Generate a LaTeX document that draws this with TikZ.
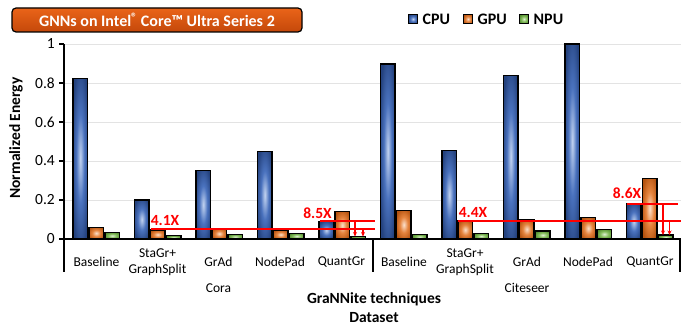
\documentclass[tikz,border=0pt]{standalone}
\usepackage{fontspec}
\setmainfont{Carlito}
\usetikzlibrary{arrows.meta}
\definecolor{cpuout}{HTML}{24427E}
\definecolor{cpumid}{HTML}{4A72BE}
\definecolor{cpuin}{HTML}{C2D3F0}
\definecolor{gpuout}{HTML}{B4520F}
\definecolor{gpumid}{HTML}{E5843E}
\definecolor{gpuin}{HTML}{FBE0CB}
\definecolor{npuout}{HTML}{4F8A2C}
\definecolor{npumid}{HTML}{86BE5E}
\definecolor{npuin}{HTML}{E0F0D4}
\definecolor{titletop}{HTML}{EA6419}
\definecolor{titlebot}{HTML}{C4480A}
\definecolor{annred}{HTML}{FF0000}
\pgfdeclareradialshading{cpushade}{\pgfpoint{0bp}{0bp}}{color(0bp)=(cpuin); color(14bp)=(cpumid); color(30bp)=(cpuout); color(72bp)=(cpuout)}
\pgfdeclareradialshading{gpushade}{\pgfpoint{0bp}{0bp}}{color(0bp)=(gpuin); color(14bp)=(gpumid); color(30bp)=(gpuout); color(72bp)=(gpuout)}
\pgfdeclareradialshading{npushade}{\pgfpoint{0bp}{0bp}}{color(0bp)=(npuin); color(14bp)=(npumid); color(30bp)=(npuout); color(72bp)=(npuout)}
\newcommand{\drawbar}[3]{%
  \shade[shading=#3, draw=black, line width=1.2pt] (#1,239) rectangle ({#1+14.5},{239-195*#2});}
\begin{document}
\begin{tikzpicture}[x=1pt,y=-1pt,
  grid/.style={gray!22, line width=0.9pt},
  axisline/.style={black, line width=1.3pt},
  annline/.style={draw=annred, line width=1.5pt},
  annarr/.style={draw=annred, fill=annred, line width=1.2pt, -{Stealth[length=4.5pt,width=4pt]}},
  annlab/.style={text=annred, font=\bfseries\fontsize{15.5}{16}\selectfont, inner sep=0pt},
  ticklab/.style={anchor=east, inner sep=0pt, font=\fontsize{15.5}{16}\selectfont},
  catlab/.style={align=center, inner sep=0pt, font=\fontsize{13.5}{16.5}\selectfont},
  axtitle/.style={inner sep=0pt, font=\bfseries\fontsize{15.5}{16}\selectfont},
  legsq/.style={draw=black, line width=1pt, minimum size=9pt, inner sep=0pt},
  leglab/.style={anchor=west, inner sep=0pt, font=\bfseries\fontsize{16}{16}\selectfont},
  titlebox/.style={draw=black, line width=1.2pt, rounded corners=4pt, top color=titletop, bottom color=titlebot,
     minimum width=290pt, minimum height=24pt, inner sep=0pt, text=white, font=\bfseries\fontsize{16}{16}\selectfont}]
\useasboundingbox (0,0) rectangle (681,329);
% grid
\foreach \v in {0.2,0.4,0.6,0.8,1} {
  \draw[grid] (64,{239-195*\v}) -- (681,{239-195*\v});
}
% bars
\foreach \i/\c/\g/\n in {0/0.823/0.06/0.034, 1/0.20/0.046/0.017, 2/0.351/0.055/0.024, 3/0.449/0.046/0.030, 4/0.089/0.14/0.012,
  5/0.897/0.146/0.024, 6/0.452/0.094/0.030, 7/0.84/0.10/0.041, 8/1.0/0.11/0.05, 9/0.18/0.312/0.02} {
  \pgfmathsetmacro\L{64+\i*61.5}
  \drawbar{\L+9}{\c}{cpushade}
  \drawbar{\L+25}{\g}{gpushade}
  \drawbar{\L+41}{\n}{npushade}
}
% axes
\draw[axisline] (64,44) -- (64,272);
\draw[axisline] (64,239) -- (681,239);
\draw[axisline] (373,239) -- (373,272);
\draw[axisline] (680,239) -- (680,272);
\foreach \v/\t in {0/0,0.2/0.2,0.4/0.4,0.6/0.6,0.8/0.8,1/1} {
  \draw[axisline] (59,{239-195*\v}) -- (64,{239-195*\v});
  \node[ticklab] (tick\t) at (55,{239-195*\v}) {\t};
}
% category labels
\node[catlab] (c1) at (96.5,262) {Baseline};
\node[catlab] (c2) at (157.5,262) {StaGr+\\GraphSplit};
\node[catlab] (c3) at (218.5,262) {GrAd};
\node[catlab] (c4) at (280,262) {NodePad};
\node[catlab] (c5) at (341.5,262) {QuantGr};
\node[catlab] (c6) at (404,262) {Baseline};
\node[catlab] (c7) at (465,262) {StaGr+\\GraphSplit};
\node[catlab] (c8) at (527,262) {GrAd};
\node[catlab] (c9) at (588,262) {NodePad};
\node[catlab] (c10) at (650,262) {QuantGr};
\node[catlab] (cora) at (218.5,288) {Cora};
\node[catlab] (citeseer) at (527,288) {Citeseer};
\node[axtitle] (xt) at (374,299) {GraNNite techniques};
\node[axtitle] (ds) at (374,318) {Dataset};
\node[axtitle, rotate=90] (yt) at (16,138) {Normalized Energy};
% annotations Cora
\coordinate (a1s) at (150.5,229);
\coordinate (a1e) at (375,229);
\coordinate (a2s) at (319.5,221);
\coordinate (a2e) at (375,221);
\draw[annline] (a1s) -- (a1e);
\draw[annline] (a2s) -- (a2e);
\coordinate (r1t) at (355,221);
\coordinate (r1b) at (355,236.5);
\coordinate (r2t) at (363,229);
\coordinate (r2b) at (363,236.5);
\draw[annarr] (r1t) -- (r1b);
\draw[annarr] (r2t) -- (r2b);
\node[annlab] (l41) at (165,221) {4.1X};
\node[annlab] (l85) at (317.5,213) {8.5X};
% annotations Citeseer
\coordinate (b1s) at (458,221);
\coordinate (b1e) at (681,221);
\coordinate (b2s) at (627,204);
\coordinate (b2e) at (678,204);
\draw[annline] (b1s) -- (b1e);
\draw[annline] (b2s) -- (b2e);
\coordinate (s1t) at (663,204);
\coordinate (s1b) at (663,235);
\coordinate (s2t) at (669.5,221);
\coordinate (s2b) at (669.5,235);
\draw[annarr] (s1t) -- (s1b);
\draw[annarr] (s2t) -- (s2b);
\node[annlab] (l44) at (473,213) {4.4X};
\node[annlab] (l86) at (627,193.5) {8.6X};
% title
\node[titlebox] (title) at (157,20) {GNNs on Intel\raisebox{0.3em}{\fontsize{12}{12}\selectfont ®} Core™ Ultra Series 2};
% legend
\node[legsq, shading=cpushade] (lcpu) at (413,19) {};
\node[leglab] (tcpu) at (422.5,19) {CPU};
\node[legsq, shading=gpushade] (lgpu) at (468,19) {};
\node[leglab] (tgpu) at (477.5,19) {GPU};
\node[legsq, shading=npushade] (lnpu) at (524,19) {};
\node[leglab] (tnpu) at (533.5,19) {NPU};
\end{tikzpicture}
\end{document}
